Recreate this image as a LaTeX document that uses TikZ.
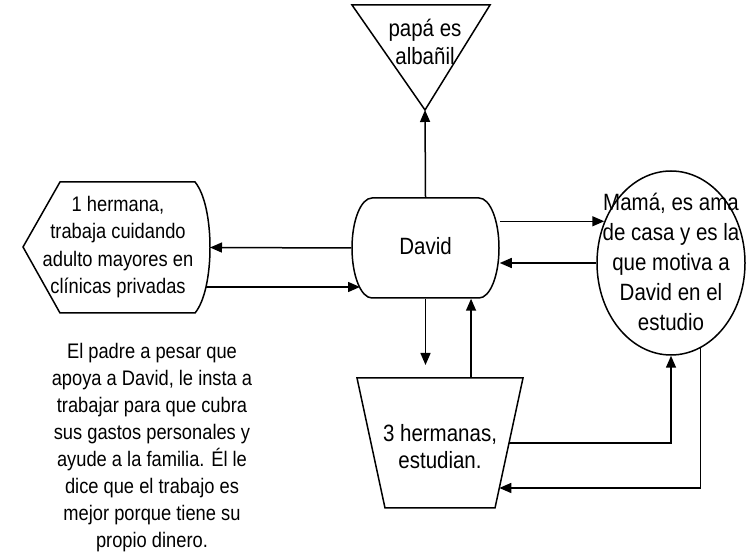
\documentclass[tikz,border=0pt]{standalone}
\usepackage{fontspec}
\setmainfont{Liberation Sans}
\usetikzlibrary{arrows.meta,shapes.geometric,calc}
\begin{document}
\begin{tikzpicture}[x=1pt,y=1pt,
 line width=1.5pt,
 arr/.style={-{Triangle[length=12pt,width=10pt]}},
 txs/.style={font=\fontsize{18.3}{23.5}\selectfont, align=center, inner sep=0pt, yscale=1.15, transform shape},
 txb/.style={font=\fontsize{20.5}{25.5}\selectfont, align=center, inner sep=0pt, yscale=1.15, transform shape}]
\useasboundingbox (0,0) rectangle (751,556);
% triangle: papa
\coordinate (tl) at (352,551);
\coordinate (tr) at (490,551);
\coordinate (tp) at (425,446);
\draw (tl) -- (tr) -- (tp) -- cycle;
\node[txb, font=\fontsize{20.5}{24}\selectfont] (papa) at (425,514) {papá es\\albañil};
% David
\node[minimum width=147pt, minimum height=100pt, inner sep=0pt] (david) at (425.5,308) {};
\node[txb] (davidT) at (425.5,310) {David};
\draw (372,358) -- (479,358) arc[start angle=90,end angle=-90,x radius=20pt,y radius=50pt]
  -- (372,258) arc[start angle=270,end angle=90,x radius=20pt,y radius=50pt] -- cycle;
% display shape: hermana
\coordinate (dl) at (23,309);
\coordinate (dtl) at (60,374);
\coordinate (dtr) at (195,374);
\coordinate (dbr) at (195,243);
\coordinate (dbl) at (60,243);
\coordinate (dR) at (210,308.5);
\coordinate (dR2) at (206,269);
\draw (dl) -- (dtl) -- (dtr) .. controls (215,350) and (215,267) .. (dbr) -- (dbl) -- cycle;
\node[txs, font=\fontsize{18.3}{24}\selectfont] (herm) at (118,309) {1 hermana,\\trabaja cuidando\\adulto mayores en\\clínicas privadas};
% ellipse: mama
\node[draw, ellipse, minimum width=148pt, minimum height=184pt, inner sep=0pt] (mama) at (671,293) {};
\node[txb, font=\fontsize{20.5}{26}\selectfont] (mamaT) at (671,294) {Mamá, es ama\\de casa y es la\\que motiva a\\David en el\\estudio};
% trapezoid: hermanas
\coordinate (ztl) at (357,178);
\coordinate (ztr) at (523,178);
\coordinate (zbr) at (495,48);
\coordinate (zbl) at (385,48);
\draw (ztl) -- (ztr) -- (zbr) -- (zbl) -- cycle;
\node[txb, font=\fontsize{20.5}{23.5}\selectfont] (sis) at (440,109.5) {3 hermanas,\\estudian.};
\coordinate (zt) at ($(ztl)!0.687!(ztr)$);
\coordinate (zr1) at ($(ztr)!0.5!(zbr)$);
\coordinate (zr2) at ($(ztr)!0.846!(zbr)$);
\coordinate (dn) at (425.5,191);
% note
\node[txs] (note) at (152,108.5) {El padre a pesar que\\apoya a David, le insta a\\trabajar para que cubra\\sus gastos personales y\\ayude a la familia. Él le\\dice que el trabajo es\\mejor porque tiene su\\propio dinero.};
% connectors
\draw[arr] (david.north) -- (tp);
\draw[arr] (david.west) -- (dR);
\draw[arr] (dR2) -- (360,269);
\draw[arr] (david.east |- mama.148.5) -- (mama.148.5);
\draw[arr] (mama.west) -- (david.east |- mama.west);
\draw[arr] (david.south) -- (dn);
\draw[arr] (zt) -- (zt |- david.south);
\draw[arr] (zr1) -| (mama.south);
\draw[arr] (mama.-71) |- (zr2);
\end{tikzpicture}
\end{document}
